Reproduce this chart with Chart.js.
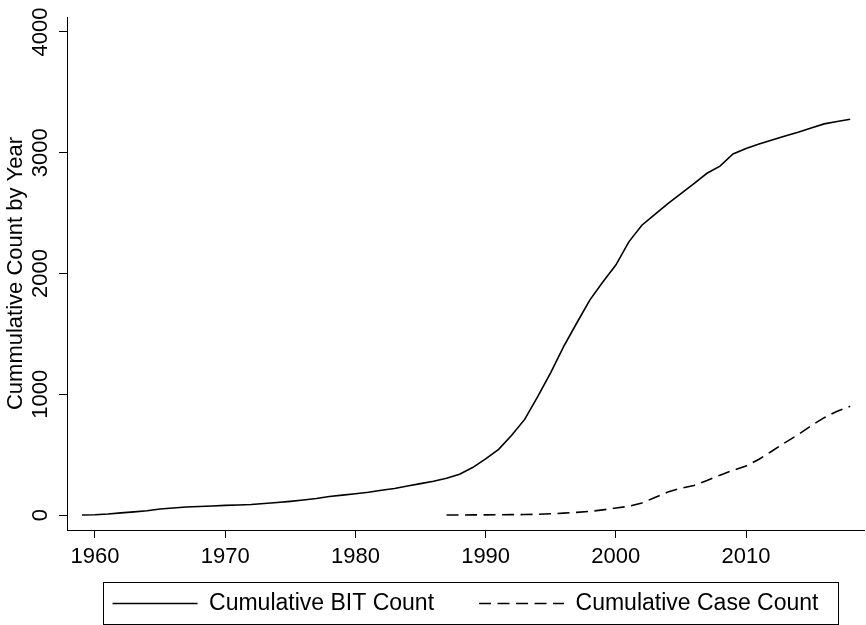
<!DOCTYPE html>
<html>
<head>
<meta charset="utf-8">
<script src="https://cdn.jsdelivr.net/npm/chart.js@4/dist/chart.umd.min.js"></script>
<style>
  html, body { margin: 0; padding: 0; background: #fff; }
  #wrap { width: 866px; height: 625px; position: relative; }
</style>
</head>
<body>
<div id="wrap"><canvas id="chart1"></canvas></div>
<script>
const years = [1959, 1960, 1961, 1962, 1963, 1964, 1965, 1966, 1967, 1968,
    1969, 1970, 1971, 1972, 1973, 1974, 1975, 1976, 1977, 1978,
    1979, 1980, 1981, 1982, 1983, 1984, 1985, 1986, 1987, 1988,
    1989, 1990, 1991, 1992, 1993, 1994, 1995, 1996, 1997, 1998,
    1999, 2000, 2001, 2002, 2003, 2004, 2005, 2006, 2007, 2008,
    2009, 2010, 2011, 2012, 2013, 2014, 2015, 2016, 2017, 2018];
const bitCount = [0, 2, 8, 18, 26, 36, 50, 58, 66, 70,
    75, 80, 83, 87, 95, 104, 113, 124, 137, 154,
    165, 176, 188, 205, 220, 240, 260, 280, 305, 338,
    393, 465, 544, 660, 792, 980, 1180, 1396, 1590, 1780,
    1930, 2070, 2262, 2400, 2490, 2578, 2661, 2745, 2830, 2889,
    2990, 3035, 3072, 3105, 3138, 3170, 3205, 3239, 3258, 3278];

const caseYears = [1987, 1988, 1989, 1990, 1991, 1992, 1993, 1994, 1995, 1996,
    1997, 1998, 1999, 2000, 2001, 2002, 2003, 2004, 2005, 2006,
    2007, 2008, 2009, 2010, 2011, 2012, 2013, 2014, 2015, 2016,
    2017, 2018];
const caseCount = [0, 0, 1, 1, 2, 3, 4, 6, 10, 16,
    22, 30, 43, 58, 72, 100, 145, 190, 222, 245,
    285, 330, 370, 405, 462, 530, 600, 665, 740, 806,
    860, 900];

const xTicks = [1960, 1970, 1980, 1990, 2000, 2010];
const yTicks = [0, 1000, 2000, 3000, 4000];
const seriesNames = ['Cumulative BIT Count', 'Cumulative Case Count'];

const toPoints = (xs, ys) => xs.map((x, i) => ({ x: x, y: ys[i] }));

// frame round the legend, like the Stata one
const legendBox = {
    id: 'legendBox',
    afterLayout(chart) {
        // x axis is squeezed so the legend sits close; let its labels show below it
        const xs = chart.scales.x;
        xs.bottom = xs.top + 50;
    },
    afterDraw(chart) {
        const hb = chart.legend.legendHitBoxes;
        if (!hb || !hb.length) return;
        const last = hb[hb.length - 1];
        const x0 = Math.round(hb[0].left - 10);
        const x1 = Math.round(last.left + last.width + 20);
        const y0 = Math.round(hb[0].top - 10.5);
        const y1 = Math.round(hb[0].top + hb[0].height + 9);
        const ctx = chart.ctx;
        ctx.save();
        ctx.strokeStyle = '#000';
        ctx.lineWidth = 1;
        ctx.strokeRect(x0 + 0.5, y0 + 0.5, x1 - x0, y1 - y0);
        ctx.restore();
    }
};

(function() {
    const chart = document.getElementById('chart1');

    Chart.defaults.font.family = '"Liberation Sans", Arial, Helvetica, sans-serif';
    Chart.defaults.font.size = 22;
    Chart.defaults.color = '#000';

    const data = {
        datasets: [{
            label: seriesNames[0],
            data: toPoints(years, bitCount),
            borderColor: '#000',
            borderWidth: 1.6,
            pointRadius: 0,
            tension: 0
        }, {
            label: seriesNames[1],
            data: toPoints(caseYears, caseCount),
            borderColor: '#000',
            borderWidth: 1.6,
            borderDash: [12, 6.5],
            pointRadius: 0,
            tension: 0
        }]
    };

    const config = {
        type: 'line',
        data: data,
        plugins: [legendBox],
        options: {
            responsive: true,
            maintainAspectRatio: false,
            animation: false,
            layout: { padding: { top: 17, right: 2, left: 0, bottom: 0 } },
            plugins: {
                tooltip: { enabled: false },
                legend: {
                    position: 'bottom',
                    fullSize: false,
                    labels: {
                        usePointStyle: true,
                        pointStyle: 'line',
                        pointStyleWidth: 85,
                        padding: 45,
                        color: '#000',
                        font: { size: 23 },
                        generateLabels: (c) => {
                            const items = Chart.defaults.plugins.legend.labels.generateLabels(c);
                            items.forEach((it, i) => {
                                const ds = c.data.datasets[i];
                                it.lineDash = ds.borderDash || [];
                                it.lineWidth = ds.borderWidth;
                                it.strokeStyle = '#000';
                            });
                            return items;
                        }
                    }
                }
            },
            scales: {
                x: {
                    type: 'linear',
                    min: 1957.85,
                    max: 2019.06,
                    afterBuildTicks: (scale) => { scale.ticks = xTicks.map(v => ({ value: v })); },
                    afterFit: (scale) => { scale.height = 17; },
                    grid: { drawOnChartArea: false, drawTicks: true, tickLength: 8, color: '#000', lineWidth: 1 },
                    border: { display: true, color: '#000', width: 1 },
                    ticks: { padding: 6, color: '#000', callback: (v) => String(v) }
                },
                y: {
                    type: 'linear',
                    min: -124,
                    max: 4124,
                    afterBuildTicks: (scale) => { scale.ticks = yTicks.map(v => ({ value: v })); },
                    afterFit: (scale) => { scale.width = 67; },
                    grid: { drawOnChartArea: false, drawTicks: true, tickLength: 8, color: '#000', lineWidth: 1 },
                    border: { display: true, color: '#000', width: 1 },
                    ticks: {
                        minRotation: 90,
                        maxRotation: 90,
                        crossAlign: 'center',
                        padding: -6.5,
                        color: '#000',
                        callback: (v) => String(v)
                    },
                    title: {
                        display: true,
                        text: 'Cummulative Count by Year',
                        color: '#000',
                        font: { size: 22 },
                        padding: { top: 3, bottom: 0 }
                    }
                }
            }
        }
    };

    new Chart(chart, config);
})();
</script>
</body>
</html>
